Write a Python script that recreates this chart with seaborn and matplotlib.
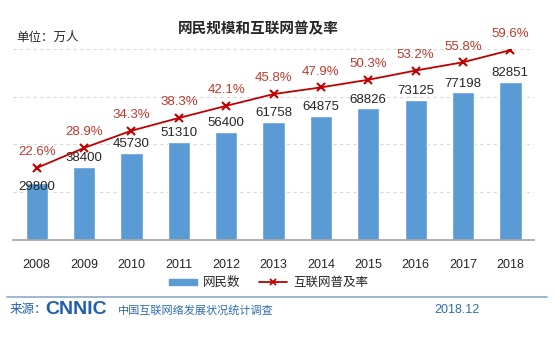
import matplotlib
matplotlib.use("Agg")
import matplotlib.pyplot as plt
import seaborn as sns
import pandas as pd
from matplotlib.lines import Line2D
from matplotlib.patches import Patch

years = ["2008", "2009", "2010", "2011", "2012", "2013", "2014", "2015", "2016", "2017", "2018"]
users = [29800, 38400, 45730, 51310, 56400, 61758, 64875, 68826, 73125, 77198, 82851]
rate = [22.6, 28.9, 34.3, 38.3, 42.1, 45.8, 47.9, 50.3, 53.2, 55.8, 59.6]

df = pd.DataFrame({"year": years, "users": users, "rate": rate})

sns.set_theme(style="white")
FAM = ["Liberation Sans", "Noto Sans CJK SC", "DejaVu Sans"]
plt.rcParams["font.family"] = FAM

BLUE = "#5B9BD5"
RED = "#C00000"

fig = plt.figure(figsize=(5.54, 3.37), dpi=100)
ax = fig.add_axes([0.0235, 0.288, 0.9405, 0.567])
sns.barplot(data=df, x="year", y="users", color=BLUE, width=0.47, ax=ax, saturation=1)
ax.set_ylim(0, 100000)
ax.set_yticks([25000, 50000, 75000, 100000])
ax.yaxis.grid(True, linestyle=(0, (3, 3)), color="#D9D9D9", linewidth=0.8)
ax.set_axisbelow(True)
ax.set_yticklabels([])
ax.tick_params(axis="y", length=0)
ax.tick_params(axis="x", length=0, labelsize=9, colors="#262626", pad=14)
ax.set_xlabel("")
ax.set_ylabel("")
for s in ["top", "right", "left"]:
    ax.spines[s].set_visible(False)
ax.spines["bottom"].set_color("#A6A6A6")
ax.set_xlim(-0.5, len(years) - 0.5)

for i, v in enumerate(users):
    off = -7 if i == 0 else 2
    ax.annotate(f"{v}", (i, v), xytext=(0, off), textcoords="offset points",
                ha="center", va="bottom", fontsize=9.5, color="#262626")

ax2 = ax.twinx()
sns.lineplot(x=list(range(len(years))), y=rate, ax=ax2, color=RED, marker="x",
             markersize=6, markeredgewidth=1.5, linewidth=1.3, markeredgecolor=RED)
ax2.set_ylim(0, 60)
ax2.set_yticks([])
for s in ["top", "right", "left", "bottom"]:
    ax2.spines[s].set_visible(False)
ax2.grid(False)
for i, v in enumerate(rate):
    ax2.annotate(f"{v}%", (i, v), xytext=(0, 7), textcoords="offset points",
                 ha="center", va="bottom", fontsize=9.5, color="#C0392B")

fig.text(0.466, 0.915, "网民规模和互联网普及率", ha="center", va="center",
         fontsize=10.5, fontweight="bold", color="#262626", family=FAM)
fig.text(0.03, 0.887, "单位：万人", ha="left", va="center", fontsize=9,
         color="#262626", family=FAM)

handles = [Patch(facecolor=BLUE, edgecolor=BLUE),
           Line2D([0], [0], color=RED, marker="x", markersize=5, markeredgewidth=1.3, linewidth=1.3)]
leg = fig.legend(handles, ["网民数", "互联网普及率"], loc="center", bbox_to_anchor=(0.485, 0.16),
                 ncol=2, frameon=False, fontsize=9, handlelength=2.2, handleheight=0.35,
                 columnspacing=1.5, handletextpad=0.5)

fig.add_artist(Line2D([0.013, 0.987], [1 - 297 / 337, 1 - 297 / 337], color="#8EA9C9", linewidth=1.2))
fig.text(0.018, 1 - 310 / 337, "来源：", ha="left", va="center", fontsize=9, color="#1F5FAE", family=FAM)
fig.text(0.082, 1 - 310 / 337, "CNNIC", ha="left", va="center", fontsize=14, fontweight="bold",
         color="#1F5FAE", family=["Liberation Sans"])
fig.text(0.213, 1 - 310 / 337, "中国互联网络发展状况统计调查", ha="left", va="center", fontsize=8,
         color="#2E6DB4", family=FAM)
fig.text(0.866, 1 - 310 / 337, "2018.12", ha="right", va="center", fontsize=9, color="#2E6DB4")

fig.savefig("out.png", dpi=100)
